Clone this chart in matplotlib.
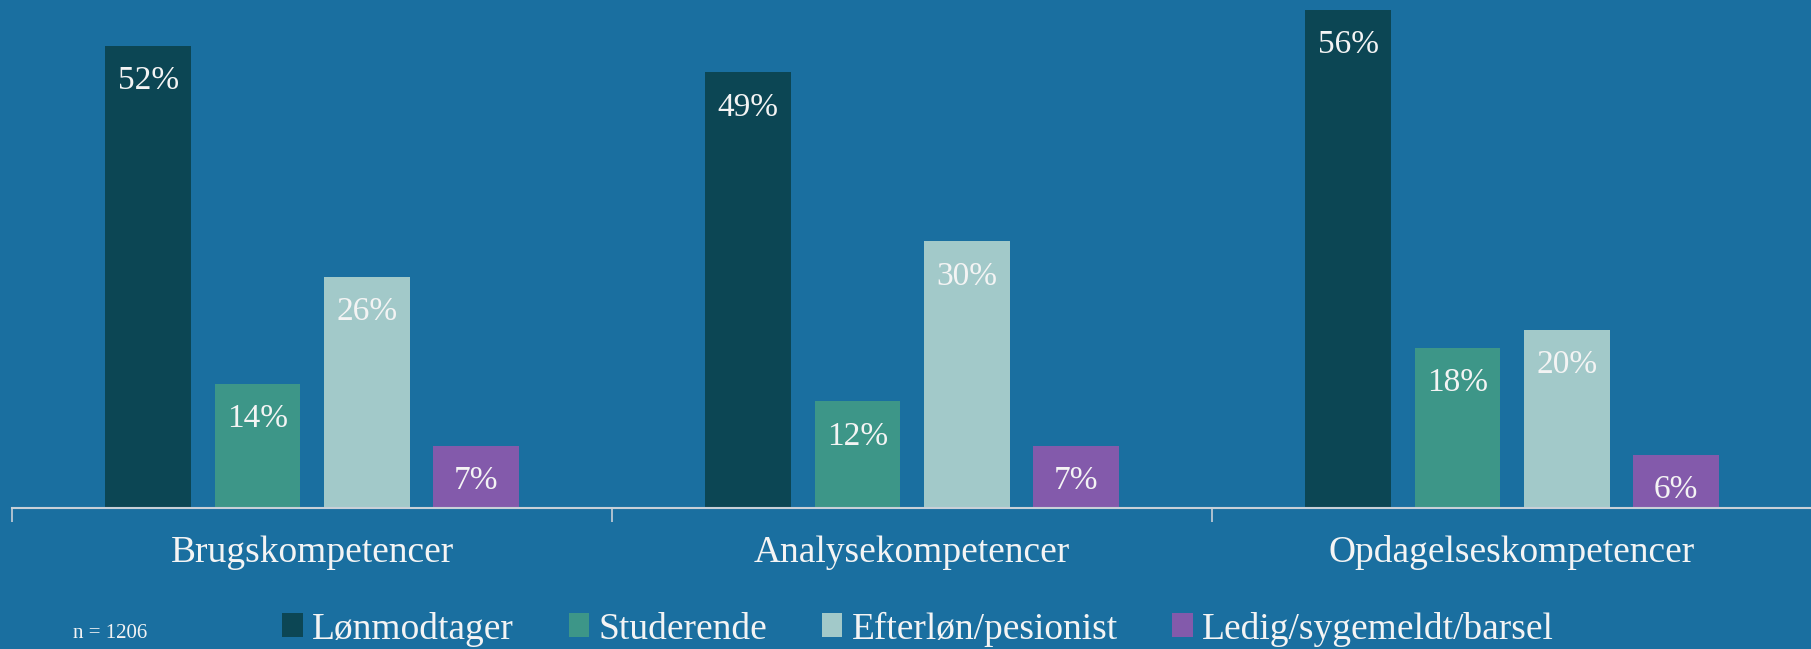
import matplotlib
matplotlib.use("Agg")
import matplotlib.pyplot as plt
from matplotlib.patches import Patch
import numpy as np

categories = ["Brugskompetencer", "Analysekompetencer", "Opdagelseskompetencer"]
groups = ["Lønmodtager", "Studerende", "Efterløn/pesionist", "Ledig/sygemeldt/barsel"]
lonmodtager = [52, 49, 56]
studerende = [14, 12, 18]
efterlon = [26, 30, 20]
ledig = [7, 7, 6]
n_text = "n = 1206"

colors = ["#0c4654", "#3d9688", "#a2c9c9", "#835aab"]
bg = "#1a6fa0"
txt = "#f4f4f4"

plt.rcParams["font.family"] = ["Liberation Serif", "DejaVu Serif"]

fig = plt.figure(figsize=(18.11, 6.49), dpi=100, facecolor=bg)
ax = fig.add_axes([12 / 1811, 141 / 649, 1800 / 1811, 0.7808])
ax.set_facecolor(bg)

x = np.arange(len(categories))
width = 0.143
step = 0.182
series = [lonmodtager, studerende, efterlon, ledig]
for i, (vals, color) in enumerate(zip(series, colors)):
    pos = x + (i - 1.5) * step
    ax.bar(pos, vals, width=width, color=color, label=groups[i])
    for p, v in zip(pos, vals):
        ax.annotate(
            f"{v}%",
            xy=(p, v),
            xytext=(0, -35),
            textcoords="offset pixels",
            ha="center",
            va="center",
            color=txt,
            fontsize=24,
        )

ax.set_xlim(-0.5, 2.5)
ax.set_ylim(0, 57)
ax.set_yticks([])
ax.spines[["top", "right", "left"]].set_visible(False)
ax.spines["bottom"].set_color("#c8d0d8")
ax.spines["bottom"].set_linewidth(1.5)

# category ticks sit on the boundaries, labels in the middle
ax.set_xticks([-0.5, 0.5, 1.5, 2.5])
ax.set_xticklabels([])
ax.tick_params(axis="x", length=10, width=1.2, color="#c8d0d8", direction="out")
for xi, cat in zip(x, categories):
    ax.text(xi, -5, cat, ha="center", va="center", color=txt, fontsize=27,
            transform=ax.transData, clip_on=False)

handles = [Patch(facecolor=c, edgecolor="none") for c in colors]
fig.legend(
    handles,
    groups,
    loc="center",
    bbox_to_anchor=(0.507, 1 - 629 / 649),
    ncol=4,
    frameon=False,
    fontsize=27,
    labelcolor=txt,
    handlelength=0.55,
    handleheight=0.6,
    handletextpad=0.25,
    columnspacing=1.45,
    borderpad=0.1,
)
fig.text(110 / 1811, 1 - 633 / 649, n_text, ha="center", va="center",
         color=txt, fontsize=15)

fig.savefig("out.png", dpi=100, facecolor=bg)
